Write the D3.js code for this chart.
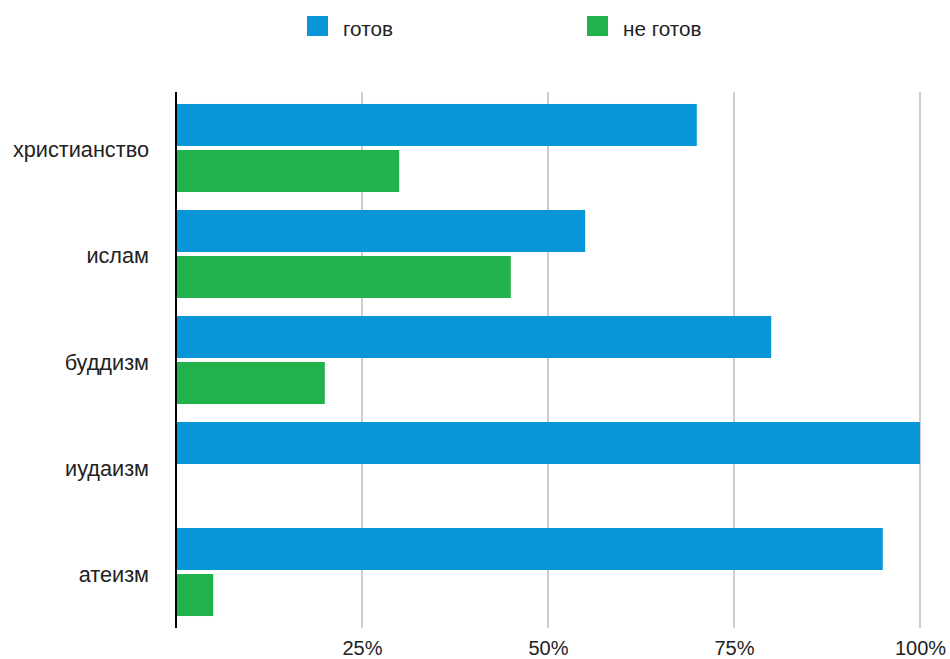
<!DOCTYPE html>
<html>
<head>
<meta charset="utf-8">
<script src="https://cdn.jsdelivr.net/npm/d3@7"></script>
<style>
  html, body { margin: 0; padding: 0; background: #fff; }
  svg text { font-family: "Liberation Sans", Arial, Helvetica, sans-serif; fill: #222; }
</style>
</head>
<body>
<svg id="chart" width="950" height="659"></svg>
<script>
// Survey results by worldview
const categories = ["христианство", "ислам", "буддизм", "иудаизм", "атеизм"];
const seriesNames = ["готов", "не готов"];
const ready    = [70, 55, 80, 100, 95];
const notReady = [30, 45, 20, 0, 5];
const tickValues = [25, 50, 75, 100];
const tickLabels = ["25%", "50%", "75%", "100%"];
const colors = ["#0797d9", "#21b24b"];

const svg = d3.select("#chart");
const plotLeft = 176, plotRight = 920, plotTop = 92, plotBottom = 628;

const x = d3.scaleLinear().domain([0, 100]).range([plotLeft, plotRight]);
const y0 = d3.scaleBand().domain(categories).range([plotTop, plotBottom])
  .paddingInner(0.17).paddingOuter(0.113);
const y1 = d3.scaleBand().domain(seriesNames).range([0, y0.bandwidth()])
  .paddingInner(0.087).paddingOuter(0);

const rows = categories.map((c, i) => ({ cat: c, vals: [ready[i], notReady[i]] }));

// Vertical gridlines
svg.append("g").selectAll("line").data(tickValues).join("line")
  .attr("x1", d => x(d)).attr("x2", d => x(d))
  .attr("y1", plotTop).attr("y2", plotBottom)
  .attr("stroke", "#bdbdbd").attr("stroke-width", 1.5);

// Bars
const groups = svg.append("g").selectAll("g").data(rows).join("g")
  .attr("transform", d => `translate(0,${y0(d.cat)})`);
groups.selectAll("rect")
  .data(d => d.vals.map((v, k) => ({ name: seriesNames[k], v, k })))
  .join("rect")
  .attr("x", x(0))
  .attr("y", d => y1(d.name))
  .attr("width", d => x(d.v) - x(0))
  .attr("height", y1.bandwidth())
  .attr("fill", d => colors[d.k]);

// Category axis line
svg.append("line")
  .attr("x1", plotLeft).attr("x2", plotLeft)
  .attr("y1", plotTop).attr("y2", plotBottom)
  .attr("stroke", "#000").attr("stroke-width", 2);

// Category labels
svg.append("g").selectAll("text").data(categories).join("text")
  .attr("x", 149)
  .attr("y", d => y0(d) + y0.bandwidth() / 2 + 2)
  .attr("text-anchor", "end")
  .attr("dominant-baseline", "central")
  .style("font-size", "21.7px")
  .text(d => d);

// Value axis tick labels
const xAxis = d3.axisBottom(x).tickValues(tickValues)
  .tickFormat((d, i) => tickLabels[i]).tickSize(0).tickPadding(0);
const ax = svg.append("g").attr("transform", `translate(0,${plotBottom})`).call(xAxis);
ax.select(".domain").remove();
ax.selectAll("text")
  .attr("y", 27).attr("dy", 0)
  .style("font-size", "20px")
  .style("font-family", "'Liberation Sans', Arial, sans-serif")
  .attr("fill", "#222");

// Legend
const legendX = [307, 587];
const legend = svg.append("g").selectAll("g").data(seriesNames).join("g")
  .attr("transform", (d, i) => `translate(${legendX[i]},16)`);
legend.append("rect").attr("width", 21).attr("height", 20)
  .attr("fill", (d, i) => colors[i]);
legend.append("text").attr("x", 36).attr("y", 12)
  .attr("dominant-baseline", "central")
  .style("font-size", "20.7px")
  .text(d => d);
</script>
</body>
</html>
